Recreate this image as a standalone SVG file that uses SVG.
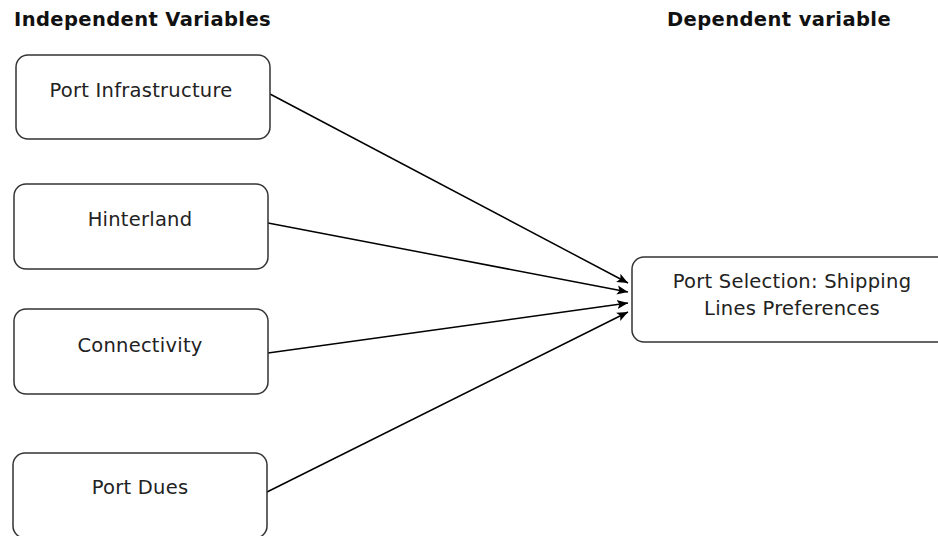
<svg xmlns="http://www.w3.org/2000/svg" width="938" height="536" viewBox="0 0 938 536">
<defs>
<marker id="arr" viewBox="0 0 10 10" refX="10" refY="5" markerWidth="11" markerHeight="11" markerUnits="userSpaceOnUse" orient="auto">
<path d="M0,0.8 L10,5 L0,9.2 L2.2,5 Z" fill="#000"/>
</marker>
</defs>
<style>
.box{fill:#fff;stroke:#333;stroke-width:1.5}
.lbl{font-family:"DejaVu Sans",Verdana,sans-serif;font-size:19.5px;letter-spacing:0.25px;fill:#222;text-anchor:middle}
.hdr{font-family:"DejaVu Sans",Verdana,sans-serif;font-size:19.5px;letter-spacing:0.4px;font-weight:bold;fill:#111}
.edge{stroke:#000;stroke-width:1.5;fill:none;marker-end:url(#arr)}
</style>
<rect width="938" height="536" fill="#fff"/>
<text class="hdr" x="14" y="26">Independent Variables</text>
<text class="hdr" x="667" y="26">Dependent variable</text>
<g id="connectors">
<line class="edge" x1="270" y1="94" x2="628" y2="283"/>
<line class="edge" x1="268" y1="223" x2="628" y2="292"/>
<line class="edge" x1="268" y1="353" x2="628" y2="303"/>
<line class="edge" x1="267" y1="492" x2="628" y2="312"/>
</g>
<g id="port-infrastructure">
<rect class="box" x="16" y="55" width="254" height="84" rx="12"/>
<text class="lbl" x="141" y="97">Port Infrastructure</text>
</g>
<g id="hinterland">
<rect class="box" x="14" y="184" width="254" height="85" rx="12"/>
<text class="lbl" x="140" y="226">Hinterland</text>
</g>
<g id="connectivity">
<rect class="box" x="14" y="309" width="254" height="85" rx="12"/>
<text class="lbl" x="140" y="352">Connectivity</text>
</g>
<g id="port-dues">
<rect class="box" x="13" y="453" width="254" height="85" rx="12"/>
<text class="lbl" x="140" y="494">Port Dues</text>
</g>
<g id="port-selection">
<rect class="box" x="632" y="257" width="320" height="85" rx="12"/>
<text class="lbl" x="792" y="288">Port Selection: Shipping</text>
<text class="lbl" x="792" y="315">Lines Preferences</text>
</g>
</svg>
